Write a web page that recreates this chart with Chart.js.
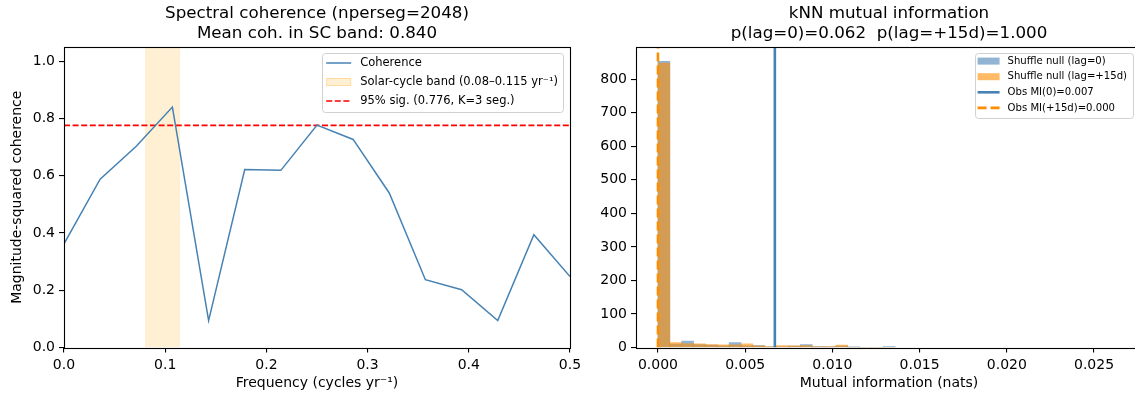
<!DOCTYPE html>
<html><head><meta charset="utf-8">
<script src="https://cdn.jsdelivr.net/npm/chart.js@4.4.1/dist/chart.umd.min.js"></script>
<style>
html,body{margin:0;padding:0;background:#fff;overflow:hidden;width:1135px;height:396px;position:relative;}
#c1{position:absolute;left:0;top:0;}
#c2{position:absolute;left:580px;top:0;}
</style></head><body>
<canvas id="c1" width="580" height="396"></canvas>
<canvas id="c2" width="562" height="396"></canvas>
<script>
// ---------- data ----------
const freq = [0, 0.0357, 0.0714, 0.1071, 0.1429, 0.1786, 0.2143, 0.25, 0.2857, 0.3214, 0.3571, 0.3929, 0.4286, 0.4643, 0.5];
const coherence = [0.362, 0.588, 0.703, 0.840, 0.094, 0.622, 0.619, 0.777, 0.727, 0.540, 0.237, 0.202, 0.094, 0.394, 0.248];
const scBand = [0.08, 0.115];
const sigLevel = 0.776;
const cohXTicks = [0, 0.1, 0.2, 0.3, 0.4, 0.5];
const cohYTicks = [0, 0.2, 0.4, 0.6, 0.8, 1.0];

const binWidth = 0.00068;
const nullLag0  = [853, 10, 19, 9, 7, 5, 15, 5, 6, 2, 2, 4, 9, 3, 1, 4, 1, 0, 0, 3];
const nullLag15 = [848, 15, 12, 11, 9, 8, 8, 11, 5, 3, 6, 5, 6, 1, 3, 7, 0, 0, 0, 0];
const obsMI0 = 0.0067;
const obsMI15 = 0.0;
const miXTicks = [0, 0.005, 0.010, 0.015, 0.020, 0.025];
const miYTicks = [0, 100, 200, 300, 400, 500, 600, 700, 800];
const miYMax = 896;

// ---------- setup ----------
Chart.defaults.font.family = '"DejaVu Sans", sans-serif';
Chart.defaults.color = '#000';
Chart.defaults.animation = false;

const frame = {
  id: 'frame',
  afterDraw(chart) {
    const a = chart.chartArea, ctx = chart.ctx;
    ctx.save();
    ctx.strokeStyle = '#000';
    ctx.lineWidth = 1.1;
    const l = Math.round(a.left) + 0.5, t = Math.round(a.top) + 0.5;
    const r = Math.round(a.right) + 0.5, b = Math.round(a.bottom) + 0.5;
    ctx.strokeRect(l, t, r - l, b - t);
    ctx.restore();
  }
};

const boxLegend = {
  id: 'boxLegend',
  afterDatasetsDraw(chart, args, o) {
    const ctx = chart.ctx;
    const items = chart.data.datasets.filter(d => d.label);
    ctx.save();
    ctx.font = o.fontSize + 'px "DejaVu Sans"';
    const tw = Math.max(...items.map(d => ctx.measureText(d.label).width));
    const w = o.padL + o.handleW + o.gap + tw + o.padR;
    const h = o.padT + items.length * o.rowH + o.padB;
    const right = chart.chartArea.right - o.offsetRight;
    const left = right - w;
    const top = chart.chartArea.top + o.offsetTop;
    ctx.beginPath();
    ctx.roundRect(Math.round(left) + 0.5, Math.round(top) + 0.5, Math.round(w), Math.round(h), 3);
    ctx.fillStyle = 'rgba(255,255,255,0.8)';
    ctx.fill();
    ctx.strokeStyle = '#d0d0d0';
    ctx.lineWidth = 1;
    ctx.stroke();
    items.forEach((d, i) => {
      const cy = top + o.padT + o.rowH * (i + 0.5);
      const hx = left + o.padL;
      if (d.legendType === 'patch') {
        ctx.fillStyle = d.legendFill || d.backgroundColor;
        ctx.fillRect(hx, cy - o.patchH / 2, o.handleW, o.patchH);
        if (d.legendEdge) {
          ctx.strokeStyle = d.legendEdge; ctx.lineWidth = 1;
          ctx.strokeRect(hx + 0.5, cy - o.patchH / 2 + 0.5, o.handleW - 1, o.patchH - 1);
        }
      } else {
        ctx.strokeStyle = d.borderColor;
        ctx.lineWidth = d.borderWidth;
        ctx.setLineDash(d.borderDash || []);
        ctx.beginPath();
        ctx.moveTo(hx, cy); ctx.lineTo(hx + o.handleW, cy);
        ctx.stroke();
        ctx.setLineDash([]);
      }
      ctx.fillStyle = '#000';
      ctx.textBaseline = 'middle';
      ctx.textAlign = 'left';
      ctx.fillText(d.label, hx + o.handleW + o.gap, cy);
    });
    ctx.restore();
  }
};

function axisCommon(ticksArr, decimals, sizeFn) {
  return {
    type: 'linear',
    offset: false,
    afterBuildTicks: s => { s.ticks = ticksArr.map(v => ({ value: v })); },
    afterFit: s => { sizeFn(s); s.paddingLeft = 0; s.paddingRight = 0; s.paddingTop = 0; s.paddingBottom = 0; },
    ticks: { autoSkip: false, maxRotation: 0, padding: 4, font: { size: 14 },
             callback: v => Number(v).toFixed(decimals) },
    grid: { display: true, drawOnChartArea: false, drawTicks: true, tickLength: 5, color: '#000', lineWidth: 1.1, offset: false },
    border: { display: false }
  };
}

// ---------- left: spectral coherence ----------
const cohX = axisCommon(cohXTicks, 1, s => { s.height = 48.5; });
cohX.min = 0; cohX.max = 0.5;
cohX.title = { display: true, text: 'Frequency (cycles yr\u207B\u00B9)', font: { size: 14 }, padding: { top: 0, bottom: 4.6 } };
const cohY = axisCommon(cohYTicks, 1, s => { s.width = 64; });
cohY.min = 0; cohY.max = 1.05;
cohY.title = { display: true, text: 'Magnitude-squared coherence', font: { size: 14 }, padding: { top: 9, bottom: 0 } };

new Chart(document.getElementById('c1'), {
  type: 'line',
  data: {
    datasets: [
      { label: 'Coherence', data: freq.map((f, i) => ({ x: f, y: coherence[i] })),
        borderColor: '#4682b4', borderWidth: 1.5, pointRadius: 0, fill: false, tension: 0, order: 0, legendType: 'line' },
      { label: 'Solar-cycle band (0.08\u20130.115 yr\u207B\u00B9)', data: scBand.map(f => ({ x: f, y: 1.05 })),
        borderWidth: 0, borderColor: 'rgba(0,0,0,0)', backgroundColor: 'rgba(255,165,0,0.17)', pointRadius: 0, fill: 'origin', order: 2,
        legendType: 'patch', legendEdge: 'rgba(255,165,0,0.25)' },
      { label: '95% sig. (0.776, K=3 seg.)', data: [{ x: 0, y: sigLevel }, { x: 0.5, y: sigLevel }],
        borderColor: '#ff0000', borderWidth: 1.6, borderDash: [6, 2.6], pointRadius: 0, fill: false, order: 1, legendType: 'line' }
    ]
  },
  options: {
    responsive: false,
    layout: { padding: { left: 0, right: 10, top: 0, bottom: 0 } },
    scales: { x: cohX, y: cohY },
    plugins: {
      legend: { display: false },
      tooltip: { enabled: false },
      title: { display: true, fullSize: false, text: ['Spectral coherence (nperseg=2048)', 'Mean coh. in SC band: 0.840'],
               font: { size: 16.7, weight: 'normal' }, padding: { top: 4, bottom: 2.92 }, color: '#000' },
      boxLegend: { fontSize: 11.5, rowH: 19, padT: 0.5, padB: 1.5, padL: 4, handleW: 25, gap: 9, padR: 5,
                   patchH: 8, offsetRight: 7, offsetTop: 6 }
    }
  },
  plugins: [frame, boxLegend]
});

// ---------- right: kNN mutual information ----------
const miX = axisCommon(miXTicks, 3, s => { s.height = 48.5; });
miX.min = -0.00126; miX.max = 0.02775;
miX.title = { display: true, text: 'Mutual information (nats)', font: { size: 14 }, padding: { top: 0, bottom: 4.6 } };
const miY = axisCommon(miYTicks, 0, s => { s.width = 56; });
miY.min = 0; miY.max = miYMax;

const binCenters = nullLag0.map((_, i) => (i + 0.5) * binWidth);

new Chart(document.getElementById('c2'), {
  type: 'bar',
  data: {
    datasets: [
      { label: 'Shuffle null (lag=0)', data: binCenters.map((c, i) => ({ x: c, y: nullLag0[i] })),
        backgroundColor: 'rgba(70,130,180,0.6)', borderWidth: 0, grouped: false, barPercentage: 1, categoryPercentage: 1,
        order: 3, legendType: 'patch' },
      { label: 'Shuffle null (lag=+15d)', data: binCenters.map((c, i) => ({ x: c, y: nullLag15[i] })),
        backgroundColor: 'rgba(255,140,0,0.6)', borderWidth: 0, grouped: false, barPercentage: 1, categoryPercentage: 1,
        order: 2, legendType: 'patch' },
      { type: 'line', label: 'Obs MI(0)=0.007', data: [{ x: obsMI0, y: 0 }, { x: obsMI0, y: miYMax }],
        borderColor: '#4682b4', borderWidth: 2.6, pointRadius: 0, fill: false, order: 1, legendType: 'line' },
      { type: 'line', label: 'Obs MI(+15d)=0.000', data: [{ x: obsMI15, y: 0 }, { x: obsMI15, y: miYMax }],
        borderColor: '#ff8c00', borderWidth: 2.6, borderDash: [9, 4], pointRadius: 0, fill: false, order: 0, legendType: 'line' }
    ]
  },
  options: {
    responsive: false,
    layout: { padding: { left: 0, right: 0, top: 0, bottom: 0 } },
    scales: { x: miX, y: miY },
    plugins: {
      legend: { display: false },
      tooltip: { enabled: false },
      title: { display: true, fullSize: false, text: ['kNN mutual information', 'p(lag=0)=0.062  p(lag=+15d)=1.000'],
               font: { size: 16.7, weight: 'normal' }, padding: { top: 4, bottom: 2.92 }, color: '#000' },
      boxLegend: { fontSize: 10.1, rowH: 15.6, padT: 0.3, padB: 2.4, padL: 3, handleW: 22, gap: 8, padR: 6,
                   patchH: 7, offsetRight: 9, offsetTop: 6 }
    }
  },
  plugins: [frame, boxLegend]
});
</script>
</body></html>
